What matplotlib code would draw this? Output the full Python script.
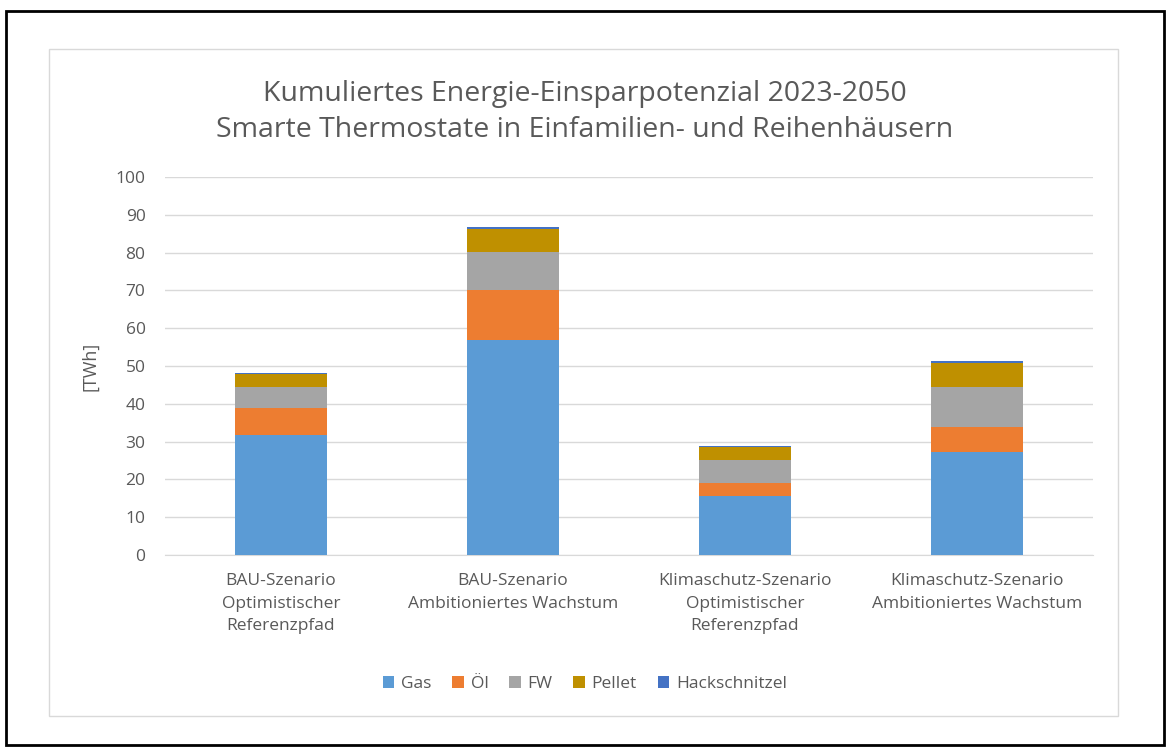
import matplotlib.pyplot as plt
import numpy as np
from matplotlib.patches import Rectangle

plt.rcParams['font.family'] = ['Open Sans', 'DejaVu Sans']

categories = [
  "BAU-Szenario\nOptimistischer\nReferenzpfad",
  "BAU-Szenario\nAmbitioniertes Wachstum",
  "Klimaschutz-Szenario\nOptimistischer\nReferenzpfad",
  "Klimaschutz-Szenario\nAmbitioniertes Wachstum",
]
gas = [31.7, 57.0, 15.6, 27.3]
oel = [7.3, 13.1, 3.5, 6.6]
fw = [5.5, 10.1, 6.0, 10.5]
pellet = [3.5, 6.0, 3.6, 6.4]
hack = [0.2, 0.6, 0.2, 0.4]

series = {"Gas": gas, "Öl": oel, "FW": fw, "Pellet": pellet, "Hackschnitzel": hack}
colors = ["#5B9BD5", "#ED7D31", "#A5A5A5", "#BF9000", "#4472C4"]
text_col = "#595959"

fig = plt.figure(figsize=(11.7, 7.47), dpi=100)
# outer black frame and inner chart border
fig.patches.append(Rectangle((6 / 1170, 2 / 747), 1158 / 1170, 734 / 747, transform=fig.transFigure,
                             fill=False, edgecolor='black', linewidth=2))
fig.patches.append(Rectangle((49 / 1170, 31 / 747), 1069 / 1170, 667 / 747, transform=fig.transFigure,
                             fill=False, edgecolor='#D9D9D9', linewidth=1))

ax = fig.add_axes([165 / 1170, 1 - 555 / 747, 928 / 1170, 378 / 747])

x = np.arange(len(categories))
bottom = np.zeros(len(categories))
for (name, vals), c in zip(series.items(), colors):
  ax.bar(x, vals, width=0.4, bottom=bottom, color=c, label=name, zorder=3)
  bottom += np.array(vals)

ax.set_xlim(-0.5, 3.5)
ax.set_ylim(0, 100)
ax.set_yticks(range(0, 101, 10))
ax.grid(axis='y', color='#D9D9D9', linewidth=1, zorder=0)
for s in ['top', 'right', 'left']:
  ax.spines[s].set_visible(False)
ax.spines['bottom'].set_color('#D9D9D9')
ax.tick_params(axis='both', length=0, colors=text_col, labelsize=12.5)
ax.tick_params(axis='y', pad=14)
ax.tick_params(axis='x', pad=13)
ax.set_xticks(x)
ax.set_xticklabels(categories, linespacing=1.55)
ax.set_ylabel('[TWh]', color=text_col, fontsize=13, labelpad=12)

fig.text(0.5, 1 - 112 / 747, "Kumuliertes Energie-Einsparpotenzial 2023-2050\nSmarte Thermostate in Einfamilien- und Reihenhäusern",
         ha='center', va='center', fontsize=20.5, color=text_col, linespacing=1.4)

leg = fig.legend(loc='center', bbox_to_anchor=(0.5, 1 - 684 / 747), ncol=5, frameon=False,
                 fontsize=12.5, handlelength=0.65, handleheight=0.65, columnspacing=1.2, handletextpad=0.4)
for t in leg.get_texts():
  t.set_color(text_col)

plt.savefig('out.png', dpi=100)
